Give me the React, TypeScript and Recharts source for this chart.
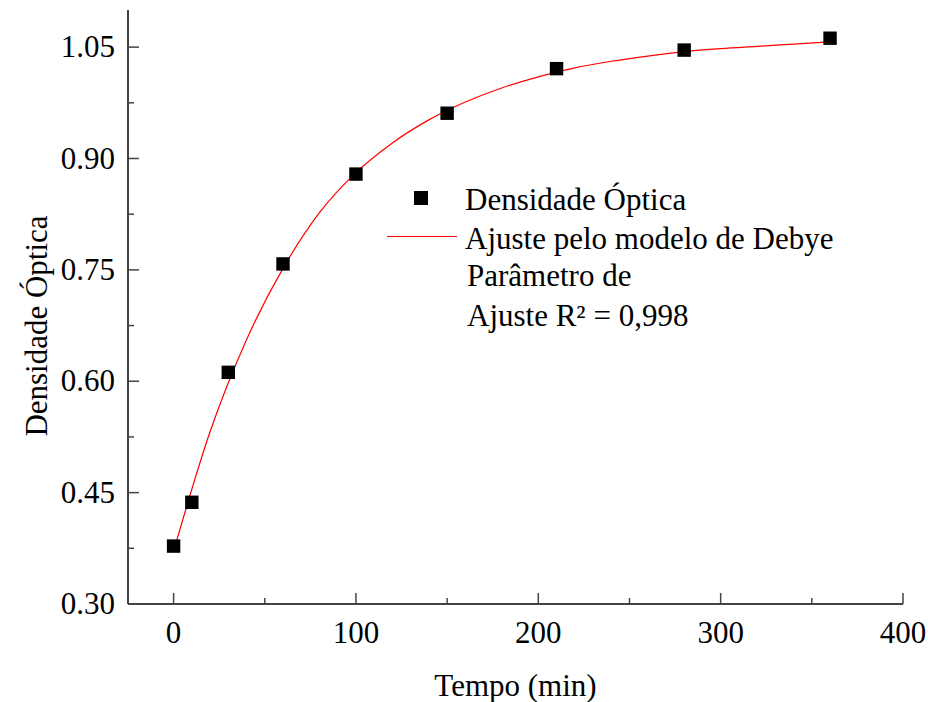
import React from "react";
import { ComposedChart, Scatter, Line, XAxis, YAxis, ZAxis } from "recharts";

// medições
const tempo = [0, 10, 30, 60, 100, 150, 210, 280, 360];
const densidade = [0.378, 0.437, 0.612, 0.758, 0.879, 0.961, 1.021, 1.046, 1.062];

// curva de ajuste
const ajusteTempo = [0, 20, 40, 60, 80, 100, 120, 140, 160, 180, 200, 220, 240, 260, 280, 300, 320, 340, 360];
const ajusteValor = [0.371, 0.532, 0.656, 0.752, 0.827, 0.881, 0.921, 0.952, 0.976, 0.995, 1.01, 1.022, 1.031, 1.038, 1.044, 1.048, 1.051, 1.054, 1.057];

const xTicks = [0, 50, 100, 150, 200, 250, 300, 350, 400];
const xMajor = [0, 100, 200, 300, 400];
const yTicks = [0.3, 0.375, 0.45, 0.525, 0.6, 0.675, 0.75, 0.825, 0.9, 0.975, 1.05];
const yMajor = ["0.30", "0.45", "0.60", "0.75", "0.90", "1.05"];

const pontos = tempo.map((t, i) => ({ x: t, y: densidade[i] }));
const ajuste = ajusteTempo.map((t, i) => ({ x: t, y: ajusteValor[i] }));

const FONT = "Liberation Serif, Times New Roman, serif";
const AXIS = "#444";
const MAJOR = 11;
const MINOR = 6;
const FS = 31;

const isMajorX = (v: number) => xMajor.includes(v);
const isMajorY = (v: number) => yMajor.includes(v.toFixed(2));

function BottomTick({ x, y, payload }: any) {
    const major = isMajorX(payload.value);
    return (
        <g>
            <line x1={x} y1={y} x2={x} y2={y - (major ? MAJOR : MINOR)} stroke={AXIS} strokeWidth={1.5} />
            {major && (
                <text x={x} y={y + 39} textAnchor="middle" fontFamily={FONT} fontSize={FS} fill="#000">
                    {payload.value}
                </text>
            )}
        </g>
    );
}

function TopTick({ x, y, payload }: any) {
    const major = isMajorX(payload.value);
    return <line x1={x} y1={y} x2={x} y2={y + (major ? MAJOR : MINOR)} stroke={AXIS} strokeWidth={1.5} />;
}

function LeftTick({ x, y, payload }: any) {
    const major = isMajorY(payload.value);
    return (
        <g>
            <line x1={x} y1={y} x2={x + (major ? MAJOR : MINOR)} y2={y} stroke={AXIS} strokeWidth={1.5} />
            {major && (
                <text x={x - 13} y={y + 10} textAnchor="end" fontFamily={FONT} fontSize={FS} fill="#000">
                    {payload.value.toFixed(2)}
                </text>
            )}
        </g>
    );
}

function RightTick({ x, y, payload }: any) {
    const major = isMajorY(payload.value);
    return <line x1={x} y1={y} x2={x - (major ? MAJOR : MINOR)} y2={y} stroke={AXIS} strokeWidth={1.5} />;
}

const legendText: React.CSSProperties = {
    position: "absolute",
    fontFamily: FONT,
    fontSize: FS,
    color: "#000",
    whiteSpace: "nowrap",
    lineHeight: "32px",
};

export default function App() {
    return (
        <div style={{ position: "relative", width: 928, height: 702, background: "#fff" }}>
            <style>{`body{margin:0}`}</style>
            <ComposedChart width={928} height={702} margin={{ top: 10, right: 25, left: 0, bottom: 0 }}>
                <ZAxis range={[180, 180]} />
                <XAxis
                    xAxisId="b"
                    type="number"
                    dataKey="x"
                    domain={[-25, 400]}
                    ticks={xTicks}
                    interval={0}
                    height={98}
                    tickSize={0}
                    tickMargin={0}
                    tickLine={false}
                    axisLine={{ stroke: AXIS, strokeWidth: 2 }}
                    tick={<BottomTick />}
                    label={{
                        value: "Tempo (min)",
                        position: "insideBottom",
                        offset: 6,
                        style: { fontFamily: FONT, fontSize: FS, fill: "#000" },
                    }}
                />
                <XAxis
                    xAxisId="t"
                    orientation="top"
                    type="number"
                    dataKey="x"
                    domain={[-25, 400]}
                    ticks={xTicks}
                    interval={0}
                    height={0}
                    tickSize={0}
                    tickMargin={0}
                    tickLine={false}
                    axisLine={{ stroke: AXIS, strokeWidth: 2 }}
                    tick={<TopTick />}
                />
                <YAxis
                    yAxisId="l"
                    type="number"
                    domain={[0.3, 1.1]}
                    ticks={yTicks}
                    interval={0}
                    width={128}
                    tickSize={0}
                    tickMargin={0}
                    tickLine={false}
                    axisLine={{ stroke: AXIS, strokeWidth: 2 }}
                    tick={<LeftTick />}
                    label={() => (
                        <text
                            x={36}
                            y={326}
                            transform="rotate(-90, 36, 326)"
                            textAnchor="middle"
                            dominantBaseline="central"
                            fontFamily={FONT}
                            fontSize={FS}
                            fill="#000"
                        >
                            Densidade Óptica
                        </text>
                    )}
                />
                <YAxis
                    yAxisId="r"
                    orientation="right"
                    type="number"
                    domain={[0.3, 1.1]}
                    ticks={yTicks}
                    interval={0}
                    width={0}
                    tickSize={0}
                    tickMargin={0}
                    tickLine={false}
                    axisLine={{ stroke: AXIS, strokeWidth: 2 }}
                    tick={<RightTick />}
                />
                <Line
                    xAxisId="b"
                    yAxisId="l"
                    data={ajuste}
                    dataKey="y"
                    type="monotone"
                    stroke="#ff0000"
                    strokeWidth={1.2}
                    dot={false}
                    isAnimationActive={false}
                />
                <Scatter
                    xAxisId="b"
                    yAxisId="l"
                    data={pontos}
                    dataKey="y"
                    fill="#000"
                    shape="square"
                    isAnimationActive={false}
                />
            </ComposedChart>

            {/* legenda */}
            <div style={{ position: "absolute", left: 414, top: 191, width: 14, height: 14, background: "#000" }} />
            <div style={{ ...legendText, left: 465, top: 184 }}>Densidade Óptica</div>
            <div style={{ position: "absolute", left: 387, top: 236, width: 70, height: 1, background: "#ff0000" }} />
            <div style={{ ...legendText, left: 465, top: 223 }}>Ajuste pelo modelo de Debye</div>
            <div style={{ ...legendText, left: 467, top: 260 }}>Parâmetro de</div>
            <div style={{ ...legendText, left: 467, top: 300 }}>Ajuste R² = 0,998</div>
        </div>
    );
}
